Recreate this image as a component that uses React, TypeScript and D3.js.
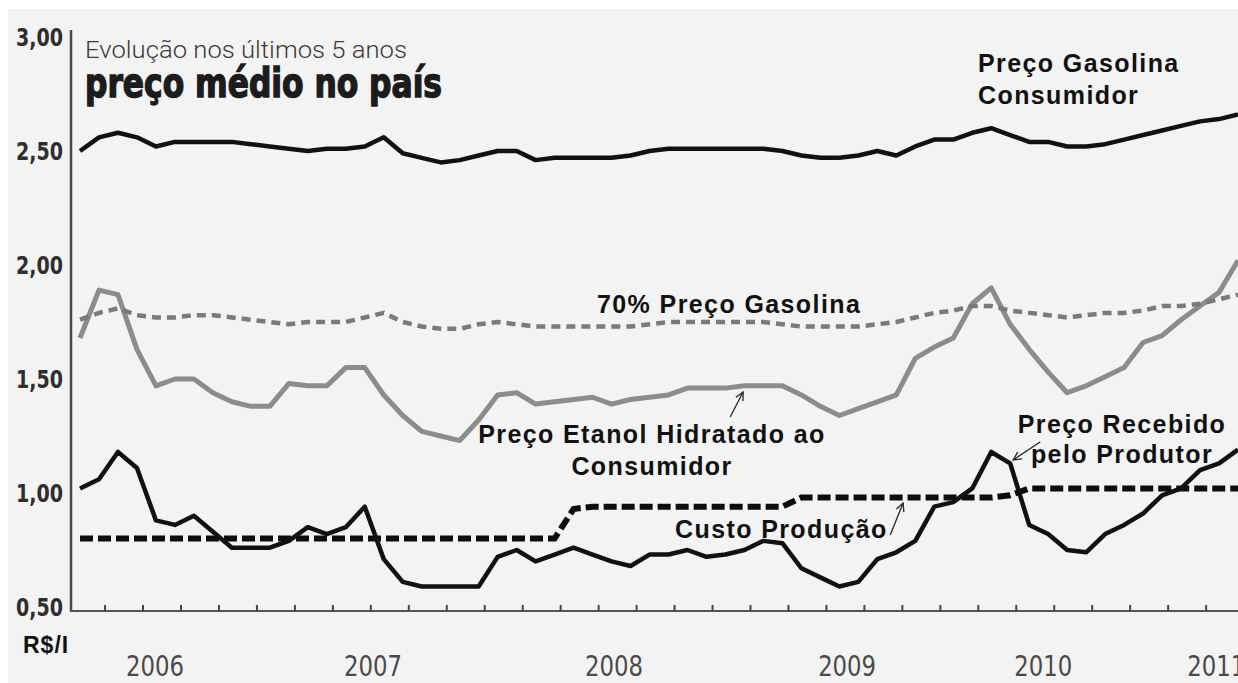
import React from 'react';
import * as d3 from 'd3';

// ---- data (monthly, index 0 = first month shown) ----
const monthIndex: number[] = Array.from({ length: 62 }, (_, i) => i);

const gasolinaConsumidor: number[] = [
  2.50, 2.56, 2.58, 2.56, 2.52, 2.54, 2.54, 2.54, 2.54, 2.53,
  2.52, 2.51, 2.50, 2.51, 2.51, 2.52, 2.56, 2.49, 2.47, 2.45,
  2.46, 2.48, 2.50, 2.50, 2.46, 2.47, 2.47, 2.47, 2.47, 2.48,
  2.50, 2.51, 2.51, 2.51, 2.51, 2.51, 2.51, 2.50, 2.48, 2.47,
  2.47, 2.48, 2.50, 2.48, 2.52, 2.55, 2.55, 2.58, 2.60, 2.57,
  2.54, 2.54, 2.52, 2.52, 2.53, 2.55, 2.57, 2.59, 2.61, 2.63,
  2.64, 2.66,
];

const setentaPorCentoGasolina: number[] = [
  1.76, 1.79, 1.81, 1.78, 1.77, 1.77, 1.78, 1.78, 1.77, 1.76,
  1.75, 1.74, 1.75, 1.75, 1.75, 1.77, 1.79, 1.75, 1.73, 1.72,
  1.72, 1.74, 1.75, 1.74, 1.73, 1.73, 1.73, 1.73, 1.73, 1.73,
  1.74, 1.75, 1.75, 1.75, 1.75, 1.75, 1.75, 1.74, 1.73, 1.73,
  1.73, 1.73, 1.74, 1.75, 1.77, 1.79, 1.80, 1.82, 1.82, 1.80,
  1.79, 1.78, 1.77, 1.78, 1.79, 1.79, 1.80, 1.82, 1.82, 1.83,
  1.85, 1.87,
];

const etanolConsumidor: number[] = [
  1.68, 1.89, 1.87, 1.63, 1.47, 1.50, 1.50, 1.44, 1.40, 1.38,
  1.38, 1.48, 1.47, 1.47, 1.55, 1.55, 1.43, 1.34, 1.27, 1.25,
  1.23, 1.32, 1.43, 1.44, 1.39, 1.40, 1.41, 1.42, 1.39, 1.41,
  1.42, 1.43, 1.46, 1.46, 1.46, 1.47, 1.47, 1.47, 1.43, 1.38,
  1.34, 1.37, 1.40, 1.43, 1.59, 1.64, 1.68, 1.83, 1.90, 1.74,
  1.63, 1.53, 1.44, 1.47, 1.51, 1.55, 1.66, 1.69, 1.76, 1.82,
  1.88, 2.02,
];

const precoProdutor: number[] = [
  1.02, 1.06, 1.18, 1.11, 0.88, 0.86, 0.90, 0.83, 0.76, 0.76,
  0.76, 0.79, 0.85, 0.82, 0.85, 0.94, 0.71, 0.61, 0.59, 0.59,
  0.59, 0.59, 0.72, 0.75, 0.70, 0.73, 0.76, 0.73, 0.70, 0.68,
  0.73, 0.73, 0.75, 0.72, 0.73, 0.75, 0.79, 0.78, 0.67, 0.63,
  0.59, 0.61, 0.71, 0.74, 0.79, 0.94, 0.96, 1.02, 1.18, 1.13,
  0.86, 0.82, 0.75, 0.74, 0.82, 0.86, 0.91, 0.99, 1.02, 1.10,
  1.13, 1.19,
];

const custoProducao: number[] = [
  0.80, 0.80, 0.80, 0.80, 0.80, 0.80, 0.80, 0.80, 0.80, 0.80,
  0.80, 0.80, 0.80, 0.80, 0.80, 0.80, 0.80, 0.80, 0.80, 0.80,
  0.80, 0.80, 0.80, 0.80, 0.80, 0.80, 0.93, 0.94, 0.94, 0.94,
  0.94, 0.94, 0.94, 0.94, 0.94, 0.94, 0.94, 0.94, 0.98, 0.98,
  0.98, 0.98, 0.98, 0.98, 0.98, 0.98, 0.98, 0.98, 0.98, 0.99,
  1.02, 1.02, 1.02, 1.02, 1.02, 1.02, 1.02, 1.02, 1.02, 1.02,
  1.02, 1.02,
];

const yTickValues: number[] = [0.5, 1.0, 1.5, 2.0, 2.5, 3.0];
const yTickLabels: string[] = ['0,50', '1,00', '1,50', '2,00', '2,50', '3,00'];
const yearLabels: string[] = ['2006', '2007', '2008', '2009', '2010', '2011'];
const yearLabelMonths: number[] = [3.95, 15.44, 28.13, 40.41, 50.74, 59.85];

// arrows: [fromMonth, fromValue, toMonth, toValue]
const arrowEtanol = [34.25, 1.333, 34.93, 1.443];
const arrowCusto = [42.68, 0.816, 43.36, 0.956];
const arrowProdutor = [50.58, 1.224, 49.16, 1.145];

const W = 1238;
const H = 683;

export default function App() {
  const x = d3.scaleLinear().domain([0, 61]).range([80, 1238]);
  const y = d3.scaleLinear().domain([0.5, 3.0]).range([607, 37]);

  const mk = (vals: number[]) =>
    d3
      .line<number>()
      .x((_, i) => x(monthIndex[i]))
      .y((d) => y(d))
      .curve(d3.curveLinear)(vals) as string;

  const tickMonths = d3.range(0, 30).map((k) => 1.32 + 2 * k);

  const annFont = {
    fontFamily: "'Liberation Sans', Arial, sans-serif",
    fontWeight: 700,
    fontSize: 25,
    letterSpacing: 1.4,
    fill: '#111',
  } as const;

  const arrow = (a: number[], key: string) => (
    <line
      key={key}
      x1={x(a[0])}
      y1={y(a[1])}
      x2={x(a[2])}
      y2={y(a[3])}
      stroke="#222"
      strokeWidth={1.3}
      markerEnd="url(#arr)"
    />
  );

  return (
    <svg
      width={W}
      height={H}
      style={{ position: 'absolute', left: 0, top: 0, display: 'block' }}
    >
      <defs>
        <marker
          id="arr"
          viewBox="0 0 10 10"
          refX={9}
          refY={5}
          markerWidth={10}
          markerHeight={10}
          markerUnits="userSpaceOnUse"
          orient="auto"
        >
          <path d="M1,1 L9,5 L1,9" fill="none" stroke="#222" strokeWidth={1.3} />
        </marker>
      </defs>
      <rect x={0} y={0} width={W} height={H} fill="#ffffff" />
      <rect x={8} y={9} width={W - 8} height={H - 9} fill="#f3f3f3" />

      {/* title */}
      <text
        x={85}
        y={58}
        fontFamily="Roboto, 'Liberation Sans', sans-serif"
        fontWeight={300}
        fontSize={23}
        fill="#3a3a3a"
        textLength={322}
        lengthAdjust="spacingAndGlyphs"
      >
        Evolução nos últimos 5 anos
      </text>
      <text
        x={85}
        y={97}
        fontFamily="'DejaVu Sans Condensed', 'DejaVu Sans', sans-serif"
        fontWeight={700}
        fontSize={40}
        fill="#1c1c1c"
        stroke="#1c1c1c"
        strokeWidth={1.4}
        textLength={357}
        lengthAdjust="spacingAndGlyphs"
      >
        preço médio no país
      </text>

      {/* axes */}
      <line x1={71} y1={30} x2={71} y2={612} stroke="#4a4a4a" strokeWidth={2.5} />
      <line x1={70} y1={611} x2={W} y2={611} stroke="#555" strokeWidth={2} />
      {tickMonths.map((m, i) => (
        <line key={'t' + i} x1={x(m)} y1={605} x2={x(m)} y2={611} stroke="#444" strokeWidth={2} />
      ))}

      {yTickValues.map((v, i) => (
        <text
          key={'y' + i}
          x={63}
          y={y(v) + 9}
          textAnchor="end"
          fontFamily="'Liberation Sans Narrow', 'DejaVu Sans Condensed', sans-serif"
          fontWeight={700}
          fontSize={25}
          fill="#2e2e2e"
          textLength={47}
          lengthAdjust="spacingAndGlyphs"
        >
          {yTickLabels[i]}
        </text>
      ))}

      {yearLabels.map((lab, i) => (
        <text
          key={'yr' + i}
          x={x(yearLabelMonths[i])}
          y={676}
          textAnchor="middle"
          fontFamily="'Liberation Sans Narrow', 'DejaVu Sans Condensed', sans-serif"
          fontWeight={400}
          fontSize={29}
          fill="#4a4a4a"
          textLength={58}
          lengthAdjust="spacingAndGlyphs"
        >
          {lab}
        </text>
      ))}

      <text
        x={23}
        y={653}
        fontFamily="'Liberation Sans', Arial, sans-serif"
        fontWeight={700}
        fontSize={23}
        letterSpacing={1}
        fill="#111"
      >
        R$/I
      </text>

      {/* series */}
      <path d={mk(etanolConsumidor)} fill="none" stroke="#8c8c8c" strokeWidth={5} strokeLinejoin="round" />
      <path
        d={mk(setentaPorCentoGasolina)}
        fill="none"
        stroke="#7a7a7a"
        strokeWidth={4.5}
        strokeDasharray="9 6"
      />
      <path d={mk(gasolinaConsumidor)} fill="none" stroke="#111" strokeWidth={4.5} strokeLinejoin="round" />
      <path
        d={mk(custoProducao)}
        fill="none"
        stroke="#0d0d0d"
        strokeWidth={6}
        strokeDasharray="13 5"
      />
      <path d={mk(precoProdutor)} fill="none" stroke="#111" strokeWidth={4.5} strokeLinejoin="round" />

      {/* annotations */}
      <text x={978} y={72} {...annFont}>Preço Gasolina</text>
      <text x={978} y={104} {...annFont}>Consumidor</text>
      <text x={597} y={313} {...annFont}>70% Preço Gasolina</text>
      <text x={652} y={443} textAnchor="middle" {...annFont}>Preço Etanol Hidratado ao</text>
      <text x={652} y={475} textAnchor="middle" {...annFont}>Consumidor</text>
      <text x={675} y={538} {...annFont}>Custo Produção</text>
      <text x={1122} y={433} textAnchor="middle" {...annFont}>Preço Recebido</text>
      <text x={1122} y={463} textAnchor="middle" {...annFont}>pelo Produtor</text>

      {arrow(arrowEtanol, 'a1')}
      {arrow(arrowCusto, 'a2')}
      {arrow(arrowProdutor, 'a3')}
    </svg>
  );
}
